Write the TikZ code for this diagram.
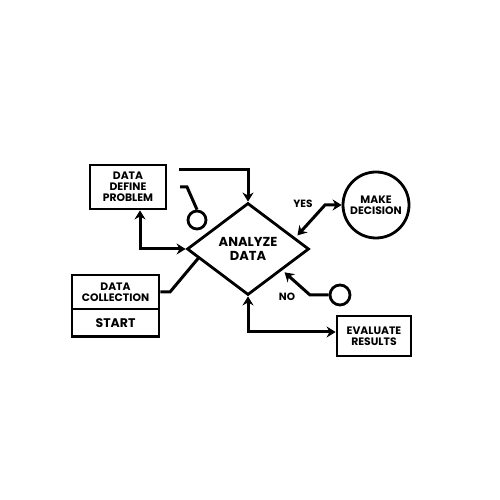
\documentclass[tikz,border=0pt]{standalone}
\usepackage{fontspec}
\setmainfont{Poppins}
\usetikzlibrary{shapes.geometric,arrows.meta,calc}

\tikzset{
  flowbox/.style={draw,line width=2.8pt,rectangle,inner sep=0pt,align=center,
    font=\fontsize{10.8}{11.2}\selectfont\bfseries},
  flowline/.style={line width=3pt},
  flowlabel/.style={font=\fontsize{10.5}{11}\selectfont\bfseries}
}

\begin{document}
\begin{tikzpicture}[x=1pt,y=1pt,>={Stealth[length=9pt,width=11pt]}]
\useasboundingbox[fill=white] (0,0) rectangle (500,500);

        % the boxes and shapes
        \node[flowbox,minimum width=76pt,minimum height=44pt] (problem) at (128,313) {DATA\\DEFINE\\PROBLEM};
        \node[flowbox,shape=diamond,minimum width=122pt,minimum height=92pt,
              font=\fontsize{13}{14}\selectfont\bfseries] (analyze) at (248,251) {ANALYZE\\DATA};
        \node[flowbox,minimum width=87pt,minimum height=34pt] (collection) at (115.5,208) {DATA\\COLLECTION};
        \node[flowbox,minimum width=87pt,minimum height=27.5pt,anchor=north,
              font=\fontsize{12.5}{13}\selectfont\bfseries] (start) at ([yshift=2.8pt]collection.south) {START};
        \node[flowbox,minimum width=74pt,minimum height=40pt] (evaluate) at (374,164) {EVALUATE\\RESULTS};
        \node[flowbox,circle,minimum size=66pt] (decision) at (376,295) {MAKE\\DECISION};

        % the small circles
        \node[flowbox,circle,minimum size=18pt] (hookcirc) at (197,280) {};
        \node[flowbox,circle,minimum size=20pt] (nocirc) at (340,205) {};

        % the corners of the connectors
        \coordinate (topstart) at (179,330);
        \coordinate (hookstart) at (180,313);
        \coordinate (hookbend) at (187,313);
        \coordinate (collbend) at (170,208);
        \coordinate (nobend) at (310,205);
        \coordinate (yesbend) at (325,295);

        % the connectors
        \draw[flowline,->] (topstart) -| (analyze.north);
        \draw[flowline] (hookstart) -- (hookbend) -- (hookcirc.north);
        \draw[flowline,<->] ([xshift=12pt]problem.south) |- (analyze.west);
        \draw[flowline] (collection.east) -- (collbend) -- ($(analyze.west)!0.2!(analyze.south)$);
        \draw[flowline,<->] (analyze.south) |- ([yshift=4pt]evaluate.west);
        \draw[flowline,->,shorten >=3pt] (nocirc.west) -- (nobend) -- ($(analyze.east)!0.45!(analyze.south)$);
        \draw[flowline,<->,shorten >=3pt] (decision.west) -- (yesbend) -- ($(analyze.north)!0.76!(analyze.east)$);

        % the labels
        \node[flowlabel] (yes) at (303,296) {YES};
        \node[flowlabel] (no) at (287,203) {NO};
\end{tikzpicture}
\end{document}
